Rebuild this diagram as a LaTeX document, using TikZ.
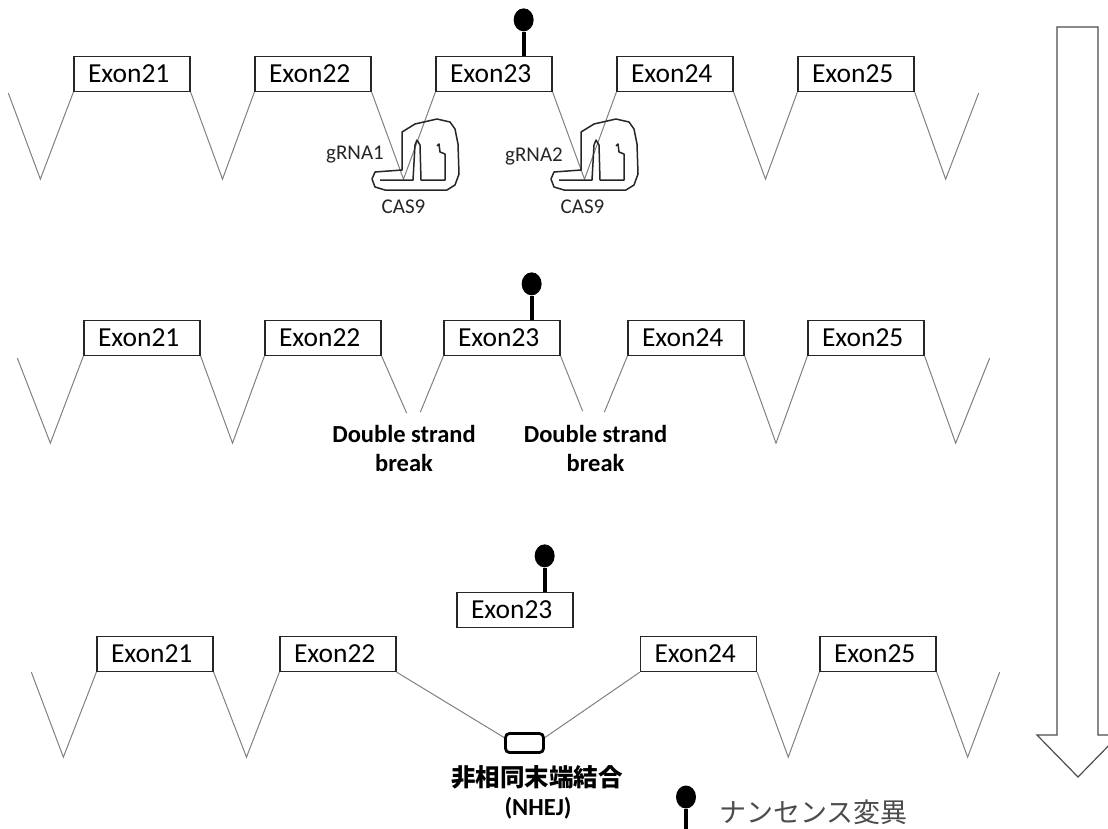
\documentclass[tikz,border=0pt]{standalone}
\usepackage{fontspec}
\setmainfont{Carlito}
\newfontfamily\jpfont{Noto Sans CJK JP}
\usetikzlibrary{calc}
\usetikzlibrary{shapes.geometric}

\begin{document}
\begin{tikzpicture}[
  x=1pt, y=-1pt,
  exon/.style={
    rectangle,
    draw=black!85,
    line width=1.3pt,
    minimum width=116pt,
    minimum height=35pt,
    inner ysep=0pt,
    inner xsep=14pt,
    text width=88pt,
    align=left,
    font=\fontsize{27.5}{32}\selectfont
  },
  intron/.style={draw=black!50, line width=1pt},
  knob/.style={ellipse, fill=black, minimum width=20pt, minimum height=23pt, inner sep=0pt},
  stem/.style={line width=4pt},
  lbl/.style={font=\fontsize{21}{25}\selectfont, text=black!85, inner sep=0pt},
  dsb/.style={font=\fontsize{24.5}{29}\selectfont\bfseries, align=center, inner sep=0pt},
  joint/.style={rectangle, rounded corners=4pt, draw, line width=2.8pt, minimum width=38pt, minimum height=19pt},
  cas/.style={draw=black!85, line width=1.5pt, line join=round},
  casnine/.pic={
    \draw[cas] (0,38) -- (0,0) -- (13,-8) -- (35,-13) -- (48,-10) -- (53,-3) -- (56,12)
      -- (57,42) -- (53,53) -- (45,58) -- (-17,58) -- (-27,55) -- (-30,47) -- (-27,40) -- cycle;
    \draw[cas] (-22,48) -- (11,48) -- (13,13) -- (15,8) -- (18,13) -- (19,48)
      -- (43,48) -- (43,22) -- (38,20) -- (37,12) -- (35,14);
  }
]
\useasboundingbox (0,0) rectangle (1108,828);

% step 1: Cas9 bound at both guide sites
\node[exon] (a21) at (132,74) {Exon21};
\node[exon] (a22) at (313,74) {Exon22};
\node[exon] (a23) at (494,74) {Exon23};
\node[exon] (a24) at (675,74) {Exon24};
\node[exon] (a25) at (856,74) {Exon25};
\draw[intron] ($(a21.south west)+(-65,1)$) -- ($(a21.south west)+(-33,87)$) -- (a21.south west);
\draw[intron] (a21.south east) -- ($(a21.south east)!.5!(a22.south west)+(0,87)$) -- (a22.south west);
\draw[intron] (a22.south east) -- ($(a22.south east)!.5!(a23.south west)+(0,87)$) -- (a23.south west);
\draw[intron] (a23.south east) -- ($(a23.south east)!.5!(a24.south west)+(0,87)$) -- (a24.south west);
\draw[intron] (a24.south east) -- ($(a24.south east)!.5!(a25.south west)+(0,87)$) -- (a25.south west);
\draw[intron] (a25.south east) -- ($(a25.south east)+(31,87)$) -- ($(a25.south east)+(64,1)$);
\node[knob] (m1) at ($(a23.north east)+(-29,-36)$) {};
\draw[stem] (m1) -- (m1 |- a23.north);
\coordinate (k1) at (402,132);
\coordinate (k2) at (581,132);
\pic at (k1) {casnine};
\pic at (k2) {casnine};
\node[lbl] (g1) at (355,155) {gRNA1};
\node[lbl] (g2) at (534,156) {gRNA2};
\node[lbl] (cas1) at (403.5,207) {CAS9};
\node[lbl] (cas2) at (582.5,207) {CAS9};

% step 2: double strand breaks
\node[exon] (b21) at (142,338) {Exon21};
\node[exon] (b22) at (323,338) {Exon22};
\node[exon] (b23) at (502,338) {Exon23};
\node[exon] (b24) at (686,338) {Exon24};
\node[exon] (b25) at (866,338) {Exon25};
\draw[intron] ($(b21.south west)+(-66,2)$) -- ($(b21.south west)+(-33,87)$) -- (b21.south west);
\draw[intron] (b21.south east) -- ($(b21.south east)!.5!(b22.south west)+(0,87)$) -- (b22.south west);
\draw[intron] (b22.south east) -- ++(25,57);
\draw[intron] (b23.south west) -- ++(-23,56);
\draw[intron] (b23.south east) -- ++(22,55);
\draw[intron] (b24.south west) -- ++(-23,56);
\draw[intron] (b24.south east) -- ($(b24.south east)!.5!(b25.south west)+(0,87)$) -- (b25.south west);
\draw[intron] (b25.south east) -- ($(b25.south east)+(31,87)$) -- ($(b25.south east)+(65,2)$);
\node[knob] (m2) at ($(b23.north east)+(-29,-36)$) {};
\draw[stem] (m2) -- (m2 |- b23.north);
\node[dsb] (dsb1) at (404,448) {Double strand\\break};
\node[dsb] (dsb2) at (595.5,448) {Double strand\\break};

% step 3: exon 23 removed, ends joined
\node[exon] (c23) at (515,610) {Exon23};
\node[exon] (c21) at (155,654) {Exon21};
\node[exon] (c22) at (338,654) {Exon22};
\node[exon] (c24) at (698.5,654) {Exon24};
\node[exon] (c25) at (878,654) {Exon25};
\node[knob] (m3) at ($(c23.north east)+(-29,-36)$) {};
\draw[stem] (m3) -- (m3 |- c23.north);
\node[joint] (nhej) at (524.5,743) {};
\draw[intron] ($(c21.south west)+(-65,0)$) -- ($(c21.south west)+(-33,85)$) -- (c21.south west);
\draw[intron] (c21.south east) -- ($(c21.south east)!.5!(c22.south west)+(0,85)$) -- (c22.south west);
\draw[intron] (c22.south east) -- (nhej.165);
\draw[intron] (nhej.15) -- (c24.south west);
\draw[intron] (c24.south east) -- ($(c24.south east)!.5!(c25.south west)+(0,85)$) -- (c25.south west);
\draw[intron] (c25.south east) -- ($(c25.south east)+(31,85)$) -- ($(c25.south east)+(63,0)$);
\node[font={\fontsize{24.5}{29}\selectfont\jpfont\bfseries}, inner sep=0pt] (nhejlbl) at (537,777) {非相同末端結合};
\node[dsb] (nhejabbr) at (538,808) {(NHEJ)};

% legend
\node[knob] (m4) at (686,797) {};
\coordinate (m4end) at (686,832);
\draw[stem] (m4) -- (m4end);
\node[anchor=west, inner sep=0pt, text=black!70, font={\fontsize{27}{32}\selectfont\jpfont}] (legend) at (719,812) {ナンセンス変異};

% time arrow
\draw[draw=black!70, line width=1.2pt] (1057,735) -- (1057,27) -- (1098,27) -- (1098,735)
  -- (1119,735) -- (1078,777) -- (1037,735) -- cycle;
\end{tikzpicture}
\end{document}
